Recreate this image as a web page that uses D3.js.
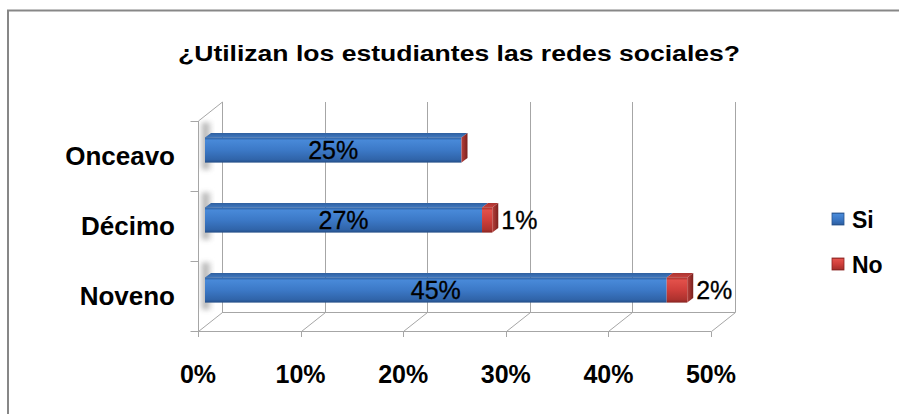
<!DOCTYPE html>
<html lang="es">
<head>
<meta charset="utf-8">
<title>¿Utilizan los estudiantes las redes sociales?</title>
<script src="https://cdn.jsdelivr.net/npm/d3@7"></script>
<style>
  body { margin: 0; background: #fff; }
  text { font-family: "Liberation Sans", Arial, sans-serif; }
</style>
</head>
<body>
<script>
// data
const categories = ["Onceavo", "Décimo", "Noveno"];
const si = [25, 27, 45];
const no = [0, 1, 2];
const ticks = [0, 10, 20, 30, 40, 50];
const seriesNames = ["Si", "No"];
const title = "¿Utilizan los estudiantes las redes sociales?";

const W = 899, H = 414;
const DX = 24, DY = -19;        // wall depth
const BX = 7, BY = -6;          // bar set back from the front
const BDX = 6, BDY = -4.5;      // bar depth

const svg = d3.select("body").append("svg")
    .attr("width", W).attr("height", H);

const defs = svg.append("defs");
function vgrad(id, stops, horiz) {
  const g = defs.append("linearGradient").attr("id", id)
      .attr("x1", 0).attr("y1", 0).attr("x2", horiz ? 1 : 0).attr("y2", horiz ? 0 : 1);
  stops.forEach(s => g.append("stop").attr("offset", s[0]).attr("stop-color", s[1]));
}
vgrad("blueFront", [[0, "#2b5c9c"], [0.12, "#4889d8"], [0.5, "#3c79c7"], [0.88, "#3064a9"], [1, "#234d86"]]);
vgrad("blueTop", [[0, "#2f5f9e"], [1, "#3f78c0"]]);
vgrad("redFront", [[0, "#a32e2a"], [0.12, "#e2504a"], [0.5, "#cf3f3b"], [0.88, "#ad322e"], [1, "#872421"]]);
vgrad("redTop", [[0, "#a83330"], [1, "#c8413d"]]);
vgrad("redSide", [[0, "#b8413c"], [1, "#7a201d"]], true);
vgrad("shadow", [[0, "#f4f4f4"], [0.4, "#9a9a9a"], [1, "#ffffff"]], true);
defs.append("filter").attr("id", "blur").append("feGaussianBlur").attr("stdDeviation", 2.5);

const seriesFill = [
  { front: "url(#blueFront)", top: "url(#blueTop)", side: "#2a5590" },
  { front: "url(#redFront)", top: "url(#redTop)", side: "url(#redSide)" }
];

// chart border
svg.append("rect").attr("x", 8).attr("y", 10.5).attr("width", 910).attr("height", 430)
    .attr("fill", "none").attr("stroke", "#878787").attr("stroke-width", 2);

// title
svg.append("text").attr("x", 459).attr("y", 61).attr("text-anchor", "middle")
    .attr("font-size", 22).attr("font-weight", "bold").attr("fill", "#000")
    .attr("textLength", 562).attr("lengthAdjust", "spacingAndGlyphs")
    .text(title);

const x = d3.scaleLinear().domain([0, 50]).range([198, 711]);
const y = d3.scaleBand().domain(categories).range([121, 331])
    .paddingInner(0.64).paddingOuter(0.32);
const y0 = 121, y1 = 331;
const grid = "#a6a6a6";

// soft shadows on the left wall
svg.append("g").selectAll("rect").data(categories).join("rect")
    .attr("x", x(0) + 2).attr("width", 13)
    .attr("y", d => y(d) + BY - 15).attr("height", y.bandwidth() + 22)
    .attr("fill", "url(#shadow)").attr("opacity", 0.85).attr("filter", "url(#blur)");

const walls = svg.append("g").attr("fill", "none").attr("stroke", grid).attr("stroke-width", 1);

// floor front edge and back edge
walls.append("line").attr("x1", x(0)).attr("x2", x(50)).attr("y1", y1 + 0.5).attr("y2", y1 + 0.5);
walls.append("line").attr("x1", x(0) + DX).attr("x2", x(50) + DX).attr("y1", y1 + DY + 0.5).attr("y2", y1 + DY + 0.5);

// gridlines: floor diagonal then up the back wall
ticks.forEach(t => {
  const xf = Math.round(x(t)) + 0.5;
  walls.append("path")
      .attr("d", `M${xf},${y1 + 0.5}L${xf + DX},${y1 + DY + 0.5}L${xf + DX},${y0 + DY}`);
  walls.append("line").attr("x1", xf).attr("x2", xf).attr("y1", y1 + 0.5).attr("y2", y1 + 6);
});

// left wall
const xl = Math.round(x(0)) + 0.5;
walls.append("path")
    .attr("d", `M${xl},${y1 + 0.5}L${xl},${y0}L${xl + DX},${y0 + DY}`);
d3.range(categories.length + 1).forEach(i => {
  const yy = Math.round(y0 + i * y.step()) + 0.5;
  walls.append("line").attr("x1", xl - 8).attr("x2", xl).attr("y1", yy).attr("y2", yy);
});

// bars
const bars = svg.append("g");
categories.forEach((c, i) => {
  const vals = [si[i], no[i]];
  const top = y(c) + BY, h = y.bandwidth();
  let start = 0;
  vals.forEach((v, s) => {
    const xa = x(start) + BX, xb = x(start + v) + BX;
    const f = seriesFill[s];
    if (v > 0) {
      bars.append("path").attr("fill", f.top)
          .attr("d", `M${xa},${top}L${xa + BDX},${top + BDY}L${xb + BDX},${top + BDY}L${xb},${top}Z`);
      bars.append("rect").attr("x", xa).attr("y", top).attr("width", xb - xa).attr("height", h)
          .attr("fill", f.front);
    }
    start += v;
  });
  // end cap of the stack, in the last series colour
  const xe = x(start) + BX;
  bars.append("path").attr("fill", seriesFill[1].side)
      .attr("d", `M${xe},${top}L${xe + BDX},${top + BDY}L${xe + BDX},${top + BDY + h}L${xe},${top + h}Z`);

  // labels
  bars.append("text").attr("x", (x(0) + x(si[i])) / 2 + BX).attr("y", top + h / 2 + 9)
      .attr("text-anchor", "middle").attr("font-size", 25).attr("fill", "#000")
      .attr("stroke", "#000").attr("stroke-width", 0.3)
      .text(si[i] + "%");
  if (no[i] > 0) {
    bars.append("text").attr("x", xe + BDX + 3).attr("y", top + h / 2 + 9)
        .attr("font-size", 25).attr("fill", "#000")
        .attr("stroke", "#000").attr("stroke-width", 0.3)
        .text(no[i] + "%");
  }
});

// category labels
svg.append("g").selectAll("text").data(categories).join("text")
    .attr("x", 175).attr("y", d => y(d) + y.bandwidth() / 2 + 9)
    .attr("text-anchor", "end").attr("font-size", 26).attr("font-weight", "bold")
    .text(d => d);

// value axis labels
svg.append("g").selectAll("text").data(ticks).join("text")
    .attr("x", d => x(d)).attr("y", 383)
    .attr("text-anchor", "middle").attr("font-size", 25).attr("font-weight", "bold")
    .text(d => d + "%");

// legend
const leg = svg.append("g").selectAll("g").data(seriesNames).join("g")
    .attr("transform", (d, i) => `translate(832,${213 + i * 45})`);
leg.append("rect").attr("width", 12).attr("height", 12)
    .attr("fill", (d, i) => seriesFill[i].front)
    .attr("stroke", (d, i) => i ? "#8a2421" : "#2a5590").attr("stroke-width", 0.8);
leg.append("text").attr("x", 20).attr("y", 15).attr("font-size", 23).attr("font-weight", "bold")
    .text(d => d);
</script>
</body>
</html>
